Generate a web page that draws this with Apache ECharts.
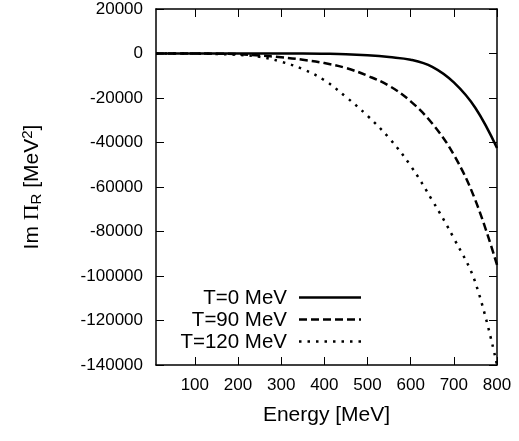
<!DOCTYPE html>
<html>
<head>
<meta charset="utf-8">
<script src="https://cdn.jsdelivr.net/npm/echarts@6/dist/echarts.min.js"></script>
<style>
  html, body { margin: 0; padding: 0; background: #fff; }
  #chart { width: 519px; height: 441px; }
</style>
</head>
<body>
<div id="chart"></div>
<script>
// Energy grid in MeV
const energy = [10, 50, 100, 150, 200, 250, 300, 350, 400, 450, 500, 550, 600, 650, 700, 750, 800];

// Im Pi_R in MeV^2 for each temperature
const imPiT0   = [0, 0, 0, 0, 0, 0, 0, 0, -100, -300, -800, -1600, -2800, -6000, -13000, -24500, -42500];
const imPiT90  = [0, 0, 0, -100, -300, -900, -1700, -2800, -4300, -6500, -10000, -14500, -21500, -31500, -45500, -66000, -95000];
const imPiT120 = [0, 0, -50, -200, -600, -1500, -3700, -7000, -12000, -19500, -28000, -38000, -50500, -66000, -83000, -103000, -140000];

const seriesNames = ['T=0 MeV', 'T=90 MeV', 'T=120 MeV'];
const xTickValues = [100, 200, 300, 400, 500, 600, 700, 800];
const xRange = [10, 800];
const yRange = [-140000, 20000];
const yStep = 20000;

const FONT = 'Liberation Sans, Arial, sans-serif';
const pairs = (ys) => energy.map((e, i) => [e, ys[i]]);

const lineTypes = ['solid', [8, 4], [2.5, 6]];
const dataSets = [imPiT0, imPiT90, imPiT120];

const chart = echarts.init(document.getElementById('chart'), null, { renderer: 'canvas' });

const tickStyle = { show: true, inside: true, length: 8, lineStyle: { color: '#000', width: 1 } };
const axisLine = { show: true, onZero: false, lineStyle: { color: '#000', width: 1.5 } };

// legend block drawn in the lower-left corner of the plot
const legendRowsY = [297.5, 319.5, 341.5];
const legendGraphics = [];
seriesNames.forEach((name, i) => {
  legendGraphics.push({
    type: 'text', x: 287, y: legendRowsY[i] + 1,
    style: { text: name, font: '20.5px ' + FONT, fill: '#000', align: 'right', verticalAlign: 'middle' }
  });
  legendGraphics.push({
    type: 'line',
    shape: { x1: 299, y1: legendRowsY[i], x2: 361, y2: legendRowsY[i] },
    style: { stroke: '#000', lineWidth: 2.5, lineDash: lineTypes[i] === 'solid' ? null : lineTypes[i] }
  });
});

chart.setOption({
  animation: false,
  backgroundColor: '#fff',
  grid: { left: 156, right: 22, top: 9, bottom: 76, containLabel: false },
  xAxis: [{
    type: 'value', min: xRange[0], max: xRange[1],
    name: 'Energy [MeV]', nameLocation: 'middle', nameGap: 40,
    nameTextStyle: { fontFamily: FONT, fontSize: 21, color: '#000' },
    axisLine: axisLine,
    axisTick: Object.assign({ customValues: xTickValues }, tickStyle),
    axisLabel: { customValues: xTickValues, fontFamily: FONT, fontSize: 17, color: '#000', margin: 12 },
    splitLine: { show: false }
  }, {
    type: 'value', min: xRange[0], max: xRange[1], position: 'top',
    axisLine: axisLine,
    axisTick: Object.assign({ customValues: xTickValues }, tickStyle),
    axisLabel: { show: false }, splitLine: { show: false }
  }],
  yAxis: [{
    type: 'value', min: yRange[0], max: yRange[1], interval: yStep,
    name: 'Im {pi|Π}{sub|R} [MeV{sup|2}]', nameLocation: 'middle', nameGap: 112,
    nameTextStyle: {
      fontFamily: FONT, fontSize: 21, color: '#000',
      rich: {
        pi: { fontFamily: 'Liberation Serif, serif', fontSize: 22, color: '#000' },
        sub: { fontFamily: FONT, fontSize: 15, color: '#000', verticalAlign: 'bottom', padding: [9, 0, 0, 0] },
        sup: { fontFamily: FONT, fontSize: 15, color: '#000', verticalAlign: 'top', padding: [0, 0, 9, 0] }
      }
    },
    axisLine: axisLine, axisTick: tickStyle,
    axisLabel: { fontFamily: FONT, fontSize: 17, color: '#000', margin: 13, formatter: (v) => String(v) },
    splitLine: { show: false }
  }, {
    type: 'value', min: yRange[0], max: yRange[1], interval: yStep, position: 'right',
    axisLine: axisLine, axisTick: tickStyle,
    axisLabel: { show: false }, splitLine: { show: false }
  }],
  graphic: legendGraphics,
  series: dataSets.map((ys, i) => ({
    name: seriesNames[i],
    type: 'line',
    xAxisIndex: 0, yAxisIndex: 0,
    data: pairs(ys),
    smooth: 0.4,
    symbol: 'none',
    lineStyle: { color: '#000', width: 2.5, type: lineTypes[i] }
  }))
});
</script>
</body>
</html>
